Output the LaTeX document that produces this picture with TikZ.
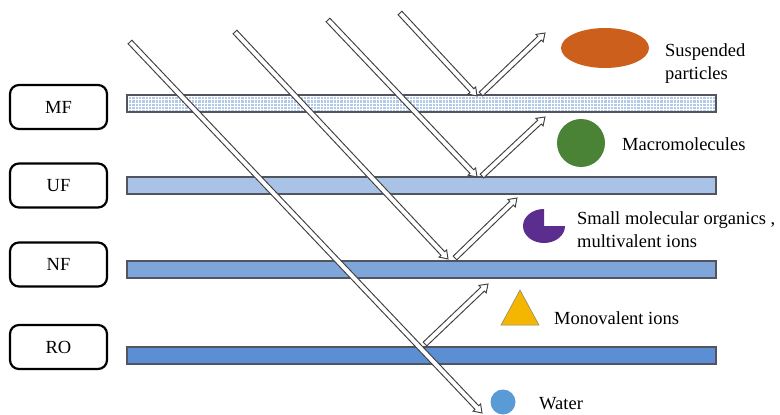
\documentclass[tikz,border=0pt]{standalone}
\usepackage{fontspec}
\setmainfont{Liberation Serif}
\usetikzlibrary{calc}
\definecolor{mfblue}{HTML}{B3C9EA}
\definecolor{ufblue}{HTML}{A9C3E7}
\definecolor{nfblue}{HTML}{7EA6DB}
\definecolor{roblue}{HTML}{5B8ED3}
\definecolor{mborder}{HTML}{505560}
\definecolor{arrline}{HTML}{404040}
\definecolor{orangep}{HTML}{CD5F1C}
\definecolor{greenp}{HTML}{4A8236}
\definecolor{purplep}{HTML}{5B2D8E}
\definecolor{goldp}{HTML}{F4B600}
\definecolor{waterp}{HTML}{5B9BD5}
\newcommand{\hollowarrow}[2]{%
  \coordinate (hb) at ($(#2)!7.5pt!(#1)$);
  \draw[harrow] ($(#1)!2.6pt!90:(#2)$) -- ($(hb)!2.6pt!-90:(#1)$) -- ($(hb)!5.2pt!-90:(#1)$) -- (#2)
     -- ($(hb)!5.2pt!90:(#1)$) -- ($(hb)!2.6pt!90:(#1)$) -- ($(#1)!2.6pt!-90:(#2)$) -- cycle;
}
\tikzset{
  harrow/.style={draw=arrline, line width=0.95pt, fill=white, line join=miter},
  membrane/.style={draw=mborder, line width=1.4pt, minimum width=589pt, minimum height=17pt, inner sep=0pt, rectangle},
  tagbox/.style={draw=black, line width=2.2pt, rounded corners=9pt, minimum width=97pt, minimum height=44pt, inner sep=0pt, font=\fontsize{18.5}{22}\selectfont},
  lbl/.style={font=\fontsize{18.5}{23}\selectfont, inner sep=0pt, anchor=west, align=left},
}
\begin{document}
\begin{tikzpicture}[x=1pt,y=-1pt]
\useasboundingbox (0,0) rectangle (780,415);
% membranes
\node[membrane, fill=mfblue] (mf) at (421.5,103.5) {};
\begin{scope}
  \clip (mf.south west) rectangle (mf.north east);
  \foreach \gx in {128.5,131.8,...,716} {\draw[white, line width=0.8pt] (\gx,94) -- (\gx,113);}
  \foreach \gy in {96.5,99.8,...,112} {\draw[white, line width=0.8pt] (127,\gy) -- (716,\gy);}
\end{scope}
\node[membrane] (mfb) at (421.5,103.5) {};
\node[membrane, fill=ufblue] (uf) at (421.5,185.5) {};
\node[membrane, fill=nfblue] (nf) at (421.5,269.5) {};
\node[membrane, fill=roblue] (ro) at (421.5,355.5) {};
% tags
\node[tagbox] (tmf) at (58.5,107) {MF};
\node[tagbox] (tuf) at (58.5,185.5) {UF};
\node[tagbox] (tnf) at (58.5,264.5) {NF};
\node[tagbox] (tro) at (58.5,347) {RO};
% arrow end points
\coordinate (a1s) at (130,42);  \coordinate (a1e) at (482,413);
\coordinate (a2s) at (235,32);  \coordinate (a2e) at (448,259);
\coordinate (a3s) at (328,20);  \coordinate (a3e) at (477,177);
\coordinate (a4s) at (400,13);  \coordinate (a4e) at (477,96);
\coordinate (r1s) at (481,94);  \coordinate (r1e) at (545,33);
\coordinate (r2s) at (482,176); \coordinate (r2e) at (545,117);
\coordinate (r3s) at (455,258); \coordinate (r3e) at (517,198);
\coordinate (r4s) at (425,344); \coordinate (r4e) at (488,284);
\hollowarrow{a1s}{a1e}
\hollowarrow{a2s}{a2e}
\hollowarrow{a3s}{a3e}
\hollowarrow{a4s}{a4e}
\hollowarrow{r1s}{r1e}
\hollowarrow{r2s}{r2e}
\hollowarrow{r3s}{r3e}
\hollowarrow{r4s}{r4e}
% particles
\fill[orangep] (605,48) ellipse[x radius=44, y radius=20];
\fill[greenp] (581,143) circle[radius=24];
\fill[purplep] (544,226) -- ++(0,-17) arc[start angle=-90, end angle=-360, x radius=21, y radius=17] -- cycle;
\filldraw[fill=goldp, draw=gray, line width=0.5pt] (520,290) -- (539,325) -- (501,325) -- cycle;
\fill[waterp] (503,402) circle[radius=12.5];
% labels
\node[lbl] (lsp) at (665,64) {Suspended\\particles};
\node[lbl] (lmm) at (622,144) {Macromolecules};
\node[lbl] (lsm) at (577,230) {Small molecular organics ,\\multivalent ions};
\node[lbl] (lmv) at (554,318) {Monovalent ions};
\node[lbl] (lw) at (539,404) {Water};
\end{tikzpicture}
\end{document}
